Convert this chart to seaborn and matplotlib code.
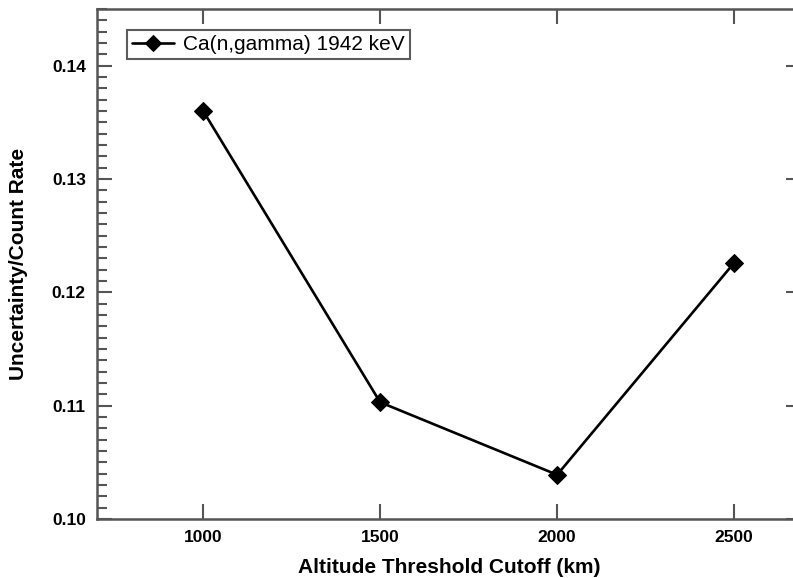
import matplotlib
matplotlib.use("Agg")
import matplotlib.pyplot as plt
import pandas as pd
import seaborn as sns
from matplotlib.ticker import MultipleLocator, FormatStrFormatter

# valores
altitude = [1000, 1500, 2000, 2500]
uncertainty = [0.1360, 0.1103, 0.1039, 0.1226]
series_label = "Ca(n,gamma) 1942 keV"

df = pd.DataFrame({"Altitude": altitude, "Uncertainty": uncertainty})

sns.set_style("ticks")
plt.rcParams["font.family"] = ["Liberation Sans", "DejaVu Sans"]
plt.rcParams["text.color"] = "black"
plt.rcParams["axes.labelcolor"] = "black"
plt.rcParams["xtick.labelcolor"] = "black"
plt.rcParams["ytick.labelcolor"] = "black"

fig = plt.figure(figsize=(7.93, 5.78), dpi=100)
# o eixo direito fica fora da figura, como no original
ax = fig.add_axes([0.1223, 0.1021, 0.8878, 0.8824])

sns.lineplot(data=df, x="Altitude", y="Uncertainty", ax=ax, color="black",
             marker="D", markersize=9, linewidth=1.9, markeredgecolor="black",
             label=series_label)

ax.set_xlim(700, 2689)
ax.set_ylim(0.10, 0.145)
ax.xaxis.set_major_locator(MultipleLocator(500))
ax.yaxis.set_major_locator(MultipleLocator(0.01))
ax.yaxis.set_minor_locator(MultipleLocator(0.001))
ax.yaxis.set_major_formatter(FormatStrFormatter("%.2f"))

ax.tick_params(which="both", direction="in", top=True, right=True, color="#555555",
               labelsize=12.5, pad=8, labelcolor="black")
ax.tick_params(which="major", length=11, width=1.5)
ax.tick_params(which="minor", length=7, width=1.5, right=False)
for lbl in ax.get_xticklabels() + ax.get_yticklabels():
    lbl.set_fontweight("bold")
for sp in ax.spines.values():
    sp.set_color("#555555")
    sp.set_linewidth(1.8)

ax.set_xlabel("Altitude Threshold Cutoff (km)", fontsize=15, fontweight="bold", labelpad=9)
ax.set_ylabel("Uncertainty/Count Rate", fontsize=15, fontweight="bold", labelpad=17)

leg = ax.legend(loc="upper left", bbox_to_anchor=(0.0426, 0.9588), borderaxespad=0,
                fontsize=15, frameon=True, fancybox=False, borderpad=0.25,
                handlelength=2.0, handletextpad=0.45, markerscale=0.85)
leg.get_frame().set_edgecolor("#333333")
leg.get_frame().set_linewidth(1.5)
for t in leg.get_texts():
    t.set_color("black")

fig.savefig("out.png", dpi=100)
